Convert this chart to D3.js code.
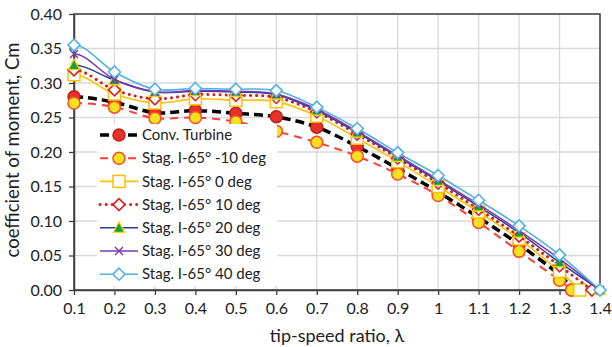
<!DOCTYPE html>
<html>
<head>
<meta charset="utf-8">
<script src="https://cdn.jsdelivr.net/npm/d3@7"></script>
<style>
  body { margin: 0; background: #fff; }
  svg { font-family: Lato, "Open Sans", sans-serif; }
</style>
</head>
<body>
<svg width="612" height="347"></svg>
<script>
// tip-speed ratios (common points), each series then drops to zero at its own end point
var lambda = [0.1, 0.2, 0.3, 0.4, 0.5, 0.6, 0.7, 0.8, 0.9, 1.0, 1.1, 1.2, 1.3];
var seriesNames = ["Conv. Turbine", "Stag. I-65\u00b0 -10 deg", "Stag. I-65\u00b0 0 deg",
  "Stag. I-65\u00b0 10 deg", "Stag. I-65\u00b0 20 deg", "Stag. I-65\u00b0 30 deg", "Stag. I-65\u00b0 40 deg"];
var endLambda = [1.33, 1.33, 1.35, 1.38, 1.4, 1.4, 1.4];

var cmConv  = [0.280, 0.272, 0.257, 0.260, 0.256, 0.251, 0.236, 0.208, 0.176, 0.142, 0.105, 0.066, 0.022];
var cmM10   = [0.271, 0.265, 0.249, 0.250, 0.244, 0.230, 0.214, 0.194, 0.168, 0.137, 0.098, 0.056, 0.014];
var cm0     = [0.312, 0.284, 0.271, 0.277, 0.275, 0.273, 0.252, 0.220, 0.186, 0.150, 0.113, 0.074, 0.027];
var cm10    = [0.319, 0.290, 0.277, 0.283, 0.282, 0.279, 0.258, 0.226, 0.191, 0.155, 0.117, 0.078, 0.035];
var cm20    = [0.326, 0.304, 0.287, 0.288, 0.287, 0.283, 0.260, 0.228, 0.193, 0.158, 0.121, 0.083, 0.040];
var cm30    = [0.342, 0.305, 0.287, 0.289, 0.288, 0.284, 0.262, 0.230, 0.195, 0.160, 0.124, 0.086, 0.045];
var cm40    = [0.355, 0.316, 0.291, 0.292, 0.291, 0.289, 0.265, 0.234, 0.199, 0.166, 0.130, 0.093, 0.051];

var xTicks = [0.1, 0.2, 0.3, 0.4, 0.5, 0.6, 0.7, 0.8, 0.9, 1, 1.1, 1.2, 1.3, 1.4];
var yTicks = [0, 0.05, 0.1, 0.15, 0.2, 0.25, 0.3, 0.35, 0.4];

var allCm = [cmConv, cmM10, cm0, cm10, cm20, cm30, cm40];

var styles = [
  {line: "#000000", width: 3.5, dash: "9,5", marker: "circle", fill: "#e8312a", stroke: "#c0201a"},
  {line: "#ff3b3b", width: 2, dash: "8,6", marker: "circle", fill: "#f5e11d", stroke: "#ff4a2a"},
  {line: "#ffc000", width: 1.6, dash: null, marker: "square", fill: "#ffffff", stroke: "#ffc000"},
  {line: "#d42020", width: 3, dash: "0.1,6", marker: "diamond", fill: "#ffffff", stroke: "#e02020"},
  {line: "#2e3d8f", width: 1.5, dash: null, marker: "triangle", fill: "#12a040", stroke: "#ffd400"},
  {line: "#7a35b0", width: 1.5, dash: null, marker: "cross", fill: "none", stroke: "#7a35b0"},
  {line: "#4fb0e3", width: 1.6, dash: null, marker: "diamond", fill: "#ffffff", stroke: "#4fb0e3"}
];

var margin = {left: 74, top: 14, right: 12, bottom: 57};
var W = 612, H = 347;
var x = d3.scaleLinear().domain([0.1, 1.4]).range([margin.left, W - margin.right]);
var y = d3.scaleLinear().domain([0, 0.4]).range([H - margin.bottom, margin.top]);

var svg = d3.select("svg");

// grid
svg.append("g").selectAll("line").data(xTicks).enter().append("line")
  .attr("x1", d => x(d)).attr("x2", d => x(d))
  .attr("y1", y(0)).attr("y2", y(0.4))
  .attr("stroke", "#d9d9d9").attr("stroke-width", 1.3);
svg.append("g").selectAll("line").data(yTicks).enter().append("line")
  .attr("x1", x(0.1)).attr("x2", x(1.4))
  .attr("y1", d => y(d)).attr("y2", d => y(d))
  .attr("stroke", "#d9d9d9").attr("stroke-width", 1.3);

// frame
svg.append("rect")
  .attr("x", x(0.1)).attr("y", y(0.4))
  .attr("width", x(1.4) - x(0.1)).attr("height", y(0) - y(0.4))
  .attr("fill", "none").attr("stroke", "#404040").attr("stroke-width", 1.5);

// axes
var xaxis = d3.axisBottom(x).tickValues(xTicks).tickSize(5).tickSizeOuter(0)
  .tickFormat(d => d3.format("")(+d.toFixed(1)));
var yaxis = d3.axisLeft(y).tickValues(yTicks).tickSize(5).tickSizeOuter(0)
  .tickFormat(d3.format(".2f"));

var gx = svg.append("g").attr("transform", "translate(0," + y(0) + ")").call(xaxis);
var gy = svg.append("g").attr("transform", "translate(" + x(0.1) + ",0)").call(yaxis);
[gx, gy].forEach(function(g) {
  g.selectAll("path").attr("stroke", "#404040").attr("stroke-width", 1.5);
  g.selectAll("line").attr("stroke", "#404040").attr("stroke-width", 1.3);
  g.selectAll("text").attr("font-size", 16).attr("fill", "#222").attr("font-family", "Lato, sans-serif");
});
gx.selectAll("text").attr("dy", "1.0em");
gy.selectAll("text").attr("dx", "-0.25em");

// axis titles
svg.append("text")
  .attr("x", x(0.75)).attr("y", 342)
  .attr("text-anchor", "middle").attr("font-size", 18).attr("fill", "#222")
  .text("tip-speed ratio, \u03bb");
svg.append("text")
  .attr("transform", "translate(19," + (y(0.2) - 2) + ") rotate(-90)")
  .attr("text-anchor", "middle").attr("font-size", 18.5).attr("fill", "#222")
  .text("coefficient of moment, Cm");

// markers
function drawMarker(g, type, st, cx, cy) {
  if (type === "circle") {
    g.append("circle").attr("cx", cx).attr("cy", cy).attr("r", 6)
      .attr("fill", st.fill).attr("stroke", st.stroke).attr("stroke-width", 1.5);
  } else if (type === "square") {
    g.append("rect").attr("x", cx - 6).attr("y", cy - 6).attr("width", 12).attr("height", 12)
      .attr("fill", st.fill).attr("stroke", st.stroke).attr("stroke-width", 1.5);
  } else if (type === "diamond") {
    g.append("path").attr("d", "M" + cx + "," + (cy - 6) + "L" + (cx + 6) + "," + cy + "L" + cx + "," + (cy + 6) + "L" + (cx - 6) + "," + cy + "Z")
      .attr("fill", st.fill).attr("stroke", st.stroke).attr("stroke-width", 1.6);
  } else if (type === "triangle") {
    g.append("path").attr("d", "M" + cx + "," + (cy - 6) + "L" + (cx + 5.5) + "," + (cy + 4.5) + "L" + (cx - 5.5) + "," + (cy + 4.5) + "Z")
      .attr("fill", st.fill).attr("stroke", st.stroke).attr("stroke-width", 1.3);
  } else if (type === "cross") {
    g.append("path").attr("d", "M" + (cx - 4) + "," + (cy - 4) + "L" + (cx + 4) + "," + (cy + 4) + "M" + (cx - 4) + "," + (cy + 4) + "L" + (cx + 4) + "," + (cy - 4))
      .attr("stroke", st.stroke).attr("stroke-width", 1.4).attr("fill", "none");
  }
}

// smoothed line, similar to a spreadsheet "smoothed line": cardinal spline whose
// first segment starts level (mirrored phantom point before the first point)
function smoothCurve(context) {
  var pts;
  return {
    areaStart: function() {}, areaEnd: function() {},
    lineStart: function() { pts = []; },
    point: function(px, py) { pts.push([px, py]); },
    lineEnd: function() {
      var n = pts.length, k = 1 / 6;
      if (!n) return;
      context.moveTo(pts[0][0], pts[0][1]);
      for (var i = 0; i < n - 1; i++) {
        var p1 = pts[i], p2 = pts[i + 1];
        var p0 = i > 0 ? pts[i - 1] : [2 * p1[0] - p2[0], p2[1]];
        var p3 = i + 2 < n ? pts[i + 2] : p2;
        context.bezierCurveTo(
          p1[0] + k * (p2[0] - p0[0]), p1[1] + k * (p2[1] - p0[1]),
          p2[0] - k * (p3[0] - p1[0]), p2[1] - k * (p3[1] - p1[1]),
          p2[0], p2[1]);
      }
    }
  };
}

var line = d3.line().x(d => x(d[0])).y(d => y(d[1])).curve(smoothCurve);

allCm.forEach(function(vals, i) {
  var st = styles[i];
  var pts = lambda.map((l, j) => [l, vals[j]]);
  pts.push([endLambda[i], 0]);
  var g = svg.append("g");
  g.append("path").datum(pts).attr("d", line)
    .attr("fill", "none").attr("stroke", st.line).attr("stroke-width", st.width)
    .attr("stroke-dasharray", st.dash).attr("stroke-linecap", i === 3 ? "round" : "butt");
  pts.forEach(p => drawMarker(g, st.marker, st, x(p[0]), y(p[1])));
});

// legend
var leg = svg.append("g");
leg.append("rect").attr("x", 97).attr("y", 124).attr("width", 180).attr("height", 162).attr("fill", "#fff");
seriesNames.forEach(function(name, i) {
  var st = styles[i];
  var ly = 135 + i * 23.2;
  leg.append("line").attr("x1", 100).attr("x2", 138).attr("y1", ly).attr("y2", ly)
    .attr("stroke", st.line).attr("stroke-width", st.width)
    .attr("stroke-dasharray", st.dash).attr("stroke-linecap", i === 3 ? "round" : "butt");
  drawMarker(leg, st.marker, st, 119, ly);
  leg.append("text").attr("x", 142).attr("y", ly).attr("dy", "0.35em")
    .attr("font-size", 15).attr("fill", "#222").text(name);
});
</script>
</body>
</html>
